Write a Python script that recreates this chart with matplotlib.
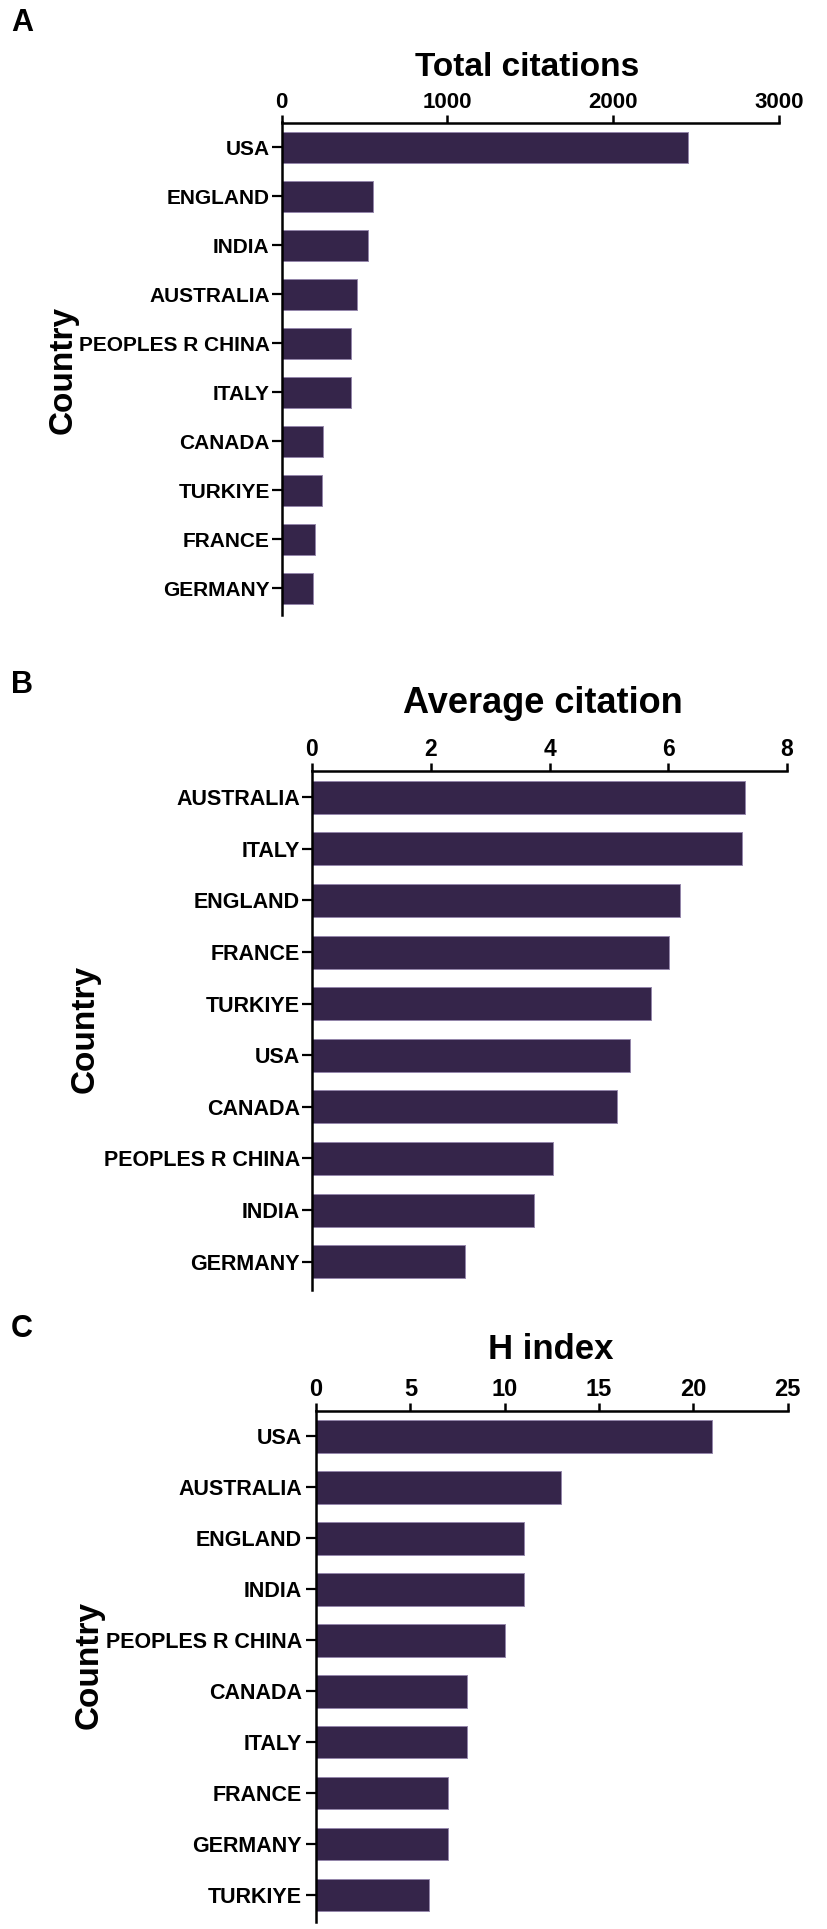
import matplotlib
matplotlib.use("Agg")
import matplotlib.pyplot as plt

# ---------------- data ----------------
countries_total = ["USA", "ENGLAND", "INDIA", "AUSTRALIA", "PEOPLES R CHINA",
                   "ITALY", "CANADA", "TURKIYE", "FRANCE", "GERMANY"]
total_citations = [2450, 552, 520, 455, 422, 422, 252, 245, 204, 188]

countries_avg = ["AUSTRALIA", "ITALY", "ENGLAND", "FRANCE", "TURKIYE",
                 "USA", "CANADA", "PEOPLES R CHINA", "INDIA", "GERMANY"]
average_citation = [7.30, 7.24, 6.19, 6.01, 5.71, 5.36, 5.13, 4.06, 3.74, 2.58]

countries_h = ["USA", "AUSTRALIA", "ENGLAND", "INDIA", "PEOPLES R CHINA",
               "CANADA", "ITALY", "FRANCE", "GERMANY", "TURKIYE"]
h_index = [21, 13, 11, 11, 10, 8, 8, 7, 7, 6]

xticks_total = [0, 1000, 2000, 3000]
xticks_avg = [0, 2, 4, 6, 8]
xticks_h = [0, 5, 10, 15, 20, 25]

titles = ["Total citations", "Average citation", "H index"]
panel_letters = ["A", "B", "C"]
ylabel = "Country"

# ---------------- style ----------------
plt.rcParams["font.family"] = ["Liberation Sans", "DejaVu Sans"]
plt.rcParams["font.weight"] = "bold"

W, H = 827, 1929
fig = plt.figure(figsize=(W / 100, H / 100), dpi=100)
fig.patch.set_facecolor("white")

BAR = "#35254a"
EDGE = "#9486ab"


def px_axes(left, right, top, bottom):
    return fig.add_axes([left / W, 1 - bottom / H, (right - left) / W, (bottom - top) / H])


def panel(ax, cats, vals, xticks, ylim_top, ylim_bot, ytick_size, xtick_size, ypad):
    y = list(range(len(cats)))
    ax.barh(y, vals, height=0.64, color=BAR, edgecolor=EDGE, linewidth=0.7, zorder=2)
    ax.set_xlim(xticks[0], xticks[-1])
    ax.set_ylim(len(cats) - 1 + ylim_bot, -ylim_top)
    ax.set_yticks(y)
    ax.set_yticklabels(cats, fontsize=ytick_size, fontweight="bold")
    ax.set_xticks(xticks)
    ax.set_xticklabels([str(t) for t in xticks], fontsize=xtick_size, fontweight="bold")
    ax.xaxis.tick_top()
    for s in ["right", "bottom"]:
        ax.spines[s].set_visible(False)
    for s in ["left", "top"]:
        ax.spines[s].set_linewidth(1.8)
        ax.spines[s].set_color("black")
    ax.tick_params(axis="x", direction="out", length=6, width=1.8, pad=1, top=True, bottom=False)
    ax.tick_params(axis="y", direction="out", length=7.5, width=1.6, pad=ypad)
    ax.set_facecolor("white")


axA = px_axes(281.5, 779, 122.5, 615)
panel(axA, countries_total, total_citations, xticks_total, 0.51, 0.545, 15, 16, 1)

axB = px_axes(312, 787, 771, 1289.5)
panel(axB, countries_avg, average_citation, xticks_avg, 0.51, 0.54, 15.5, 16.5, 1)

axC = px_axes(316, 787.7, 1411, 1922)
panel(axC, countries_h, h_index, xticks_h, 0.5, 0.53, 15.5, 17, 2.5)

# titles
title_pos = [(527, 76, 24), (543, 713, 26), (550.5, 1359, 25)]
for (x, yb, sz), t in zip(title_pos, titles):
    fig.text(x / W, 1 - yb / H, t, ha="center", va="baseline",
             fontsize=sz, fontweight="bold")

# panel letters
letter_pos = [(22, 23), (22, 685), (22, 1329)]
for (x, y), t in zip(letter_pos, panel_letters):
    fig.text(x / W, 1 - y / H, t, ha="center", va="center",
             fontsize=22, fontweight="bold")

# y labels
ylab_pos = [(63, 370), (85, 1029), (89, 1665)]
for (x, y) in ylab_pos:
    fig.text(x / W, 1 - y / H, ylabel, ha="center", va="center", rotation=90,
             fontsize=24, fontweight="bold")

fig.savefig("out.png", dpi=100, facecolor="white")
